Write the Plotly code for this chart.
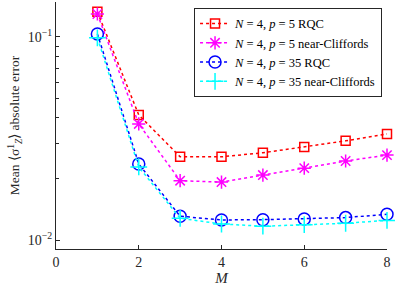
import plotly.graph_objects as go

M = [1, 2, 3, 4, 5, 6, 7, 8]
rqc_p5 = [0.133, 0.0413, 0.0257, 0.0257, 0.0269, 0.0287, 0.0308, 0.0333]
nc_p5 = [0.1297, 0.0373, 0.0196, 0.0193, 0.0209, 0.0226, 0.0245, 0.0262]
rqc_p35 = [0.1035, 0.0237, 0.0131, 0.01256, 0.0126, 0.0127, 0.0129, 0.0134]
nc_p35 = [0.099, 0.0229, 0.0128, 0.0120, 0.0117, 0.0119, 0.0121, 0.0125]

names = [
    "<i>N</i> = 4, <i>p</i> = 5 RQC",
    "<i>N</i> = 4, <i>p</i> = 5 near-Cliffords",
    "<i>N</i> = 4, <i>p</i> = 35 RQC",
    "<i>N</i> = 4, <i>p</i> = 35 near-Cliffords",
]
series = [rqc_p5, nc_p5, rqc_p35, nc_p35]
colors = ["#FF0000", "#FF00FF", "#0000FF", "#00FFFF"]
symbols = ["square-open", "asterisk-open", "circle-open", "cross-thin-open"]
sizes = [9, 11, 12, 12]

fig = go.Figure()
for n, y, c, s, sz in zip(names, series, colors, symbols, sizes):
    fig.add_trace(go.Scatter(
        x=M, y=y, name=n, mode="lines+markers",
        line=dict(color=c, width=1.5, dash="dot"),
        marker=dict(symbol=s, size=sz, color=c, line=dict(color=c, width=1.5)),
        cliponaxis=False,
    ))

font = "Liberation Serif"
fig.update_layout(
    width=395, height=286,
    margin=dict(l=56, r=8, t=2, b=37),
    plot_bgcolor="white", paper_bgcolor="white",
    font=dict(family=font, size=14, color="#262626"),
    showlegend=True,
    legend=dict(
        x=0.985, y=0.976, xanchor="right", yanchor="top",
        bgcolor="white", bordercolor="#262626", borderwidth=1,
        font=dict(family=font, size=12.5, color="#000000"),
        tracegroupgap=0, itemsizing="trace", itemwidth=30,
    ),
    xaxis=dict(
        range=[0, 8], tickvals=[0, 2, 4, 6, 8],
        showgrid=False, zeroline=False,
        showline=True, linecolor="#262626", linewidth=1.2,
        ticks="inside", ticklen=4, tickcolor="#262626",
        title=dict(text="<i>M</i>", standoff=2, font=dict(size=15)),
    ),
    yaxis=dict(
        type="log", range=[-2.044, -0.828],
        tickvals=[0.01, 0.1], ticktext=["10<sup>−2</sup>", "10<sup>−1</sup>"],
        showgrid=False, zeroline=False,
        showline=True, linecolor="#262626", linewidth=1.2,
        ticks="inside", ticklen=4, tickcolor="#262626",
        minor=dict(ticks="inside", ticklen=2.5, tickcolor="#262626",
                   tickvals=[0.02, 0.03, 0.04, 0.05, 0.06, 0.07, 0.08, 0.09], showgrid=False),
        title=dict(text="Mean ⟨σ<sup>1</sup><sub><i>Z</i></sub>⟩ absolute error", standoff=4, font=dict(size=13.5)),
    ),
)

fig.write_html("out.html", config={"displayModeBar": False},
               post_script="document.body.style.margin='0';document.body.style.overflow='hidden';")
